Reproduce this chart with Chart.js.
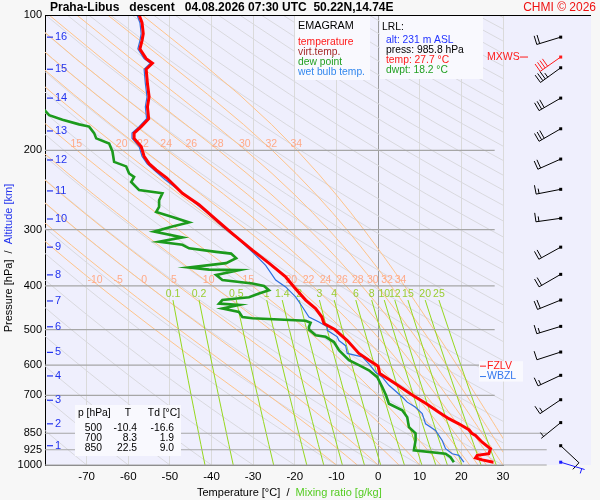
<!DOCTYPE html>
<html><head><meta charset="utf-8">
<script src="https://cdn.jsdelivr.net/npm/chart.js@4.4.1/dist/chart.umd.min.js"></script>
<style>html,body{margin:0;padding:0;background:#f7f7f7;}#wrap{width:600px;height:500px;}</style>
</head><body><div id="wrap"><canvas id="c" width="600" height="500"></canvas></div>
<script>
// ---------- DATA ----------
const Y_TICKS = [100,200,300,400,500,600,700,850,925,1000];
const ISOBARS = [200,300,400,500,600,700,850,925,1000];

const tempP = [100,104,110,114,119,125,128,132,142,152,160,170,177,183,188,196,206,214,221,230,249,264,285,306,333,356,382,402,430,449,469,485,500,529,565,585,603,626,660,700,731,763,789,810,835,850,860,890,920,944,952,964,974,985.8];
const tempC = [-57.4,-56.7,-56.4,-56.7,-57.2,-55.7,-54.2,-55.7,-55.4,-55.0,-55.4,-55.1,-56.9,-58.6,-58.6,-56.9,-56.2,-55.0,-53.3,-50.8,-47.0,-43.0,-38.9,-35.0,-30.2,-26.2,-22.2,-20.2,-17.4,-15.0,-13.5,-13.0,-10.4,-7.4,-4.6,-2.2,0.0,0.4,4.2,8.3,11.6,14.6,17.0,19.4,21.8,22.5,23.4,25.0,27.0,26.6,23.8,23.4,25.0,27.7];

const dewP = [162,167,171,175,177,183,188,193,201,212,217,225,229,235,245,249,258,267,274,281,289,295,303,312,319,324,330,336,339,347,356,364,368,369,378,388,395,400,409,416,424,430,438,441,449,457,469,472,478,483,493,500,515,519,533,556,585,600,616,638,671,700,731,756,783,824,850,882,928,944,961,985.8];
const dewC = [-80.3,-79.0,-75.8,-71.8,-69.4,-68.2,-67.7,-64.6,-63.8,-63.4,-60.5,-59.8,-58.6,-59.3,-57.4,-51.8,-52.6,-52.6,-53.3,-49.4,-45.4,-49.4,-53.8,-47.0,-52.6,-47.0,-45.4,-38.9,-35.3,-34.1,-36.5,-45.4,-40.6,-33.4,-38.9,-37.4,-30.2,-27.4,-26.2,-28.6,-31.0,-37.4,-38.2,-33.4,-37.4,-33.4,-32.6,-30.2,-17.4,-16.2,-16.6,-16.6,-15.0,-12.6,-10.6,-9.4,-7.0,-4.6,-2.2,-0.2,1.0,1.9,2.6,5.8,7.0,7.4,9.0,9.0,8.6,16.2,17.4,18.2];

const wbP = [100,104,110,114,119,125,128,132,142,152,160,170,177,183,188,196,206,214,221,232,255,274,295,316,339,360,388,402,423,445,469,481,493,502,519,529,543,565,575,596,622,638,665,706,725,744,769,810,838,882,920,944,952,985.8];
const wbC = [-57.9,-57.2,-56.9,-57.2,-57.7,-56.2,-54.7,-56.2,-55.9,-55.5,-55.9,-55.6,-57.4,-59.1,-59.1,-57.4,-56.7,-55.5,-53.8,-51.2,-45.4,-41.3,-37.4,-33.4,-29.8,-27.0,-24.6,-22.2,-19.8,-18.2,-16.6,-14.2,-12.2,-12.2,-9.8,-9.4,-7.8,-7.4,-3.8,-2.2,-0.6,1.0,2.6,5.8,7.0,9.0,10.6,11.4,13.8,15.4,16.2,17.8,19.4,20.6];

const altKm = [1,2,3,4,5,6,7,8,9,10,11,12,13,14,15,16];
const altP  = [906,810,718,634,562,493,432,378,328,284,246,210,181,153,132,112];

const windP   = [112,124,131,153,179,209,244,283,328,377,430,492,561,632,716,805,906,985.8];
const windDir = [253,235,234,240,240,246,259,262,241,240,248,253,252,245,236,231,133,107];
const windSpd = [20,40,35,30,30,20,15,15,20,20,20,15,10,15,15,5,10,5];
const MXWS_INDEX = 1;

const dryTheta = [-80,-70,-60,-50,-40,-30,-20,-10,0,10,20,30,40,50,60,70,80,90,100,110,120,130,140,150,160,170,180,190,200,210,220,230,240,250,260,270,280,290,300,310,320];
const moistThw = [-10,-5,0,5,10,15,20,22,24,26,28,30,32,34];
const mixRatio = [0.1,0.2,0.5,1,1.4,2,3,4,6,8,10,12,15,20,25];

const tableP  = [500,700,850];
const tableT  = [-10.4,8.3,22.5];
const tableTd = [-16.6,1.9,9.0];

const lrl = {alt:231, press:985.8, temp:27.7, dwpt:18.2};
const fzlvP = 603, wbzlP = 636;

// ---------- STYLE ----------
const F = '"Liberation Sans", Arial, sans-serif';
const C_T = '#ff0000', C_TD = '#1c9a1c', C_WB = '#2f6fe0';
const C_DRY = '#d9d9de', C_MOIST = '#ffc48a', C_MIX = '#96d81e';
const ISO_END = {600:34, 850:40.5, 925:40.5, 1000:40.5};

// ---------- thermodynamic guide lines ----------
function es(Tc){ return 6.112*Math.exp(17.67*Tc/(Tc+243.5)); }
function moistGrad(p,T){
  const Tc=T-273.15, e=es(Tc), rs=0.622*e/(p-e), Lv=2.501e6, Rd=287.04, cp=1005.7;
  return (Rd*T + Lv*rs)/(p*(cp + Lv*Lv*rs*0.622/(Rd*T*T)));
}
function moistLine(thw){
  const pts=[{x:thw,y:1000}]; let T=thw+273.15, p=1000; const dp=-5;
  while(p>100){ const k1=moistGrad(p,T); const k2=moistGrad(p+dp/2,T+k1*dp/2); T+=k2*dp; p+=dp; if(p%25===0) pts.push({x:T-273.15,y:p}); }
  return pts;
}
function dryLine(th){
  const pts=[]; for(let p=1000;p>=100;p-=25){ pts.push({x:(th+273.15)*Math.pow(p/1000,0.2857)-273.15,y:p}); } return pts;
}
function tdFor(w,p){ const e=w*p/(622+w); const l=Math.log(e/6.112); return 243.5*l/(17.67-l); }
function mixLine(w){ const pts=[]; for(let p=1000;p>=450;p-=50) pts.push({x:tdFor(w,p),y:p}); pts.push({x:tdFor(w,430),y:430}); return pts; }

const zip=(P,T)=>P.map((p,i)=>({x:T[i],y:p}));

const datasets=[];
const base={showLine:true,pointRadius:0,pointHoverRadius:0,fill:false,tension:0};
datasets.push(Object.assign({},base,{data:zip(tempP,tempC),borderColor:C_T,borderWidth:3,order:1}));
datasets.push(Object.assign({},base,{data:zip(dewP,dewC),borderColor:C_TD,borderWidth:2.6,order:2}));
datasets.push(Object.assign({},base,{data:zip(wbP,wbC),borderColor:C_WB,borderWidth:1.2,order:3,_kind:'wb'}));
ISOBARS.forEach(p=>datasets.push(Object.assign({},base,{data:[{x:-80,y:p},{x:(ISO_END[p]!==undefined?ISO_END[p]:28),y:p}],borderColor:'#a6a6a6',borderWidth:1.2,order:20,clip:false})));
const mixLines = mixRatio.map(mixLine);
mixLines.forEach(d=>datasets.push(Object.assign({},base,{data:d,borderColor:C_MIX,borderWidth:1,order:30})));
const moistLines = moistThw.map(moistLine);
moistLines.forEach(d=>datasets.push(Object.assign({},base,{data:d,borderColor:C_MOIST,borderWidth:1,order:40})));
dryTheta.forEach(th=>datasets.push(Object.assign({},base,{data:dryLine(th),borderColor:C_DRY,borderWidth:1,order:50})));

function txt(ctx,s,x,y,color,size,align,weight,baseline){
  ctx.font=(weight||'normal')+' '+size+'px '+F; ctx.fillStyle=color; ctx.textAlign=align||'left'; ctx.textBaseline=baseline||'middle'; ctx.fillText(s,x,y);
}

const bgPlugin={id:'bg',beforeDraw(chart){const {ctx,chartArea:a}=chart;ctx.save();ctx.fillStyle='#efeffd';ctx.fillRect(a.left,a.top,a.right-a.left+88,a.bottom-a.top);ctx.restore();}};

const labelPlugin={id:'guideLabels',beforeDatasetDraw(chart,args){
  if(chart.data.datasets[args.index]._kind!=='wb') return;
  const ctx=chart.ctx, xs=chart.scales.x, ys=chart.scales.y, a=chart.chartArea;
  ctx.save();
  moistLines.forEach((pts,i)=>{
    [200,400].forEach(pl=>{
      const pt=pts.find(q=>q.y===pl); if(!pt) return;
      const x=xs.getPixelForValue(pt.x)-(pl===400?4:1); if(x<a.left+6||x>a.right) return;
      txt(ctx,String(moistThw[i]),x,ys.getPixelForValue(pl)-1,'#ffaa88',10.5,'center','normal','bottom');
    });
  });
  mixLines.forEach((pts,i)=>{
    const pt=pts[pts.length-1];
    txt(ctx,String(mixRatio[i]),xs.getPixelForValue(pt.x),ys.getPixelForValue(pt.y)-1,'#9acd32',10.5,'center','normal','bottom');
  });
  ctx.restore();
}};

function drawBarb(ctx,x0,y0,dir,spd,color){
  const r=dir*Math.PI/180, dx=Math.sin(r), dy=-Math.cos(r), L=25, bx=-dy, by=dx;
  const ex=x0+dx*L, ey=y0+dy*L;
  ctx.strokeStyle=color; ctx.fillStyle=color; ctx.lineWidth=1;
  ctx.beginPath(); ctx.moveTo(x0,y0); ctx.lineTo(ex,ey); ctx.stroke();
  ctx.fillRect(x0-1.5,y0-1.5,3,3);
  let full=Math.floor(spd/10), half=(spd%10)>=5?1:0, pos=L;
  if(full===0&&half) pos=L-3;
  for(let i=0;i<full;i++){ const px=x0+dx*pos, py=y0+dy*pos; ctx.beginPath(); ctx.moveTo(px,py); ctx.lineTo(px+bx*9,py+by*9); ctx.stroke(); pos-=3; }
  if(half){ const px=x0+dx*pos, py=y0+dy*pos; ctx.beginPath(); ctx.moveTo(px,py); ctx.lineTo(px+bx*5,py+by*5); ctx.stroke(); }
}

const overlayPlugin={id:'overlay',afterDraw(chart){
  const ctx=chart.ctx, xs=chart.scales.x, ys=chart.scales.y, a=chart.chartArea;
  ctx.save();
  // top frame
  ctx.strokeStyle='#000'; ctx.lineWidth=1; ctx.beginPath(); ctx.moveTo(a.left,a.top+0.5); ctx.lineTo(a.right+88,a.top+0.5); ctx.stroke();
  // title
  txt(ctx,'Praha-Libus   descent   04.08.2026 07:30 UTC  50.22N,14.74E',50,7.5,'#000',12,'left','bold');
  txt(ctx,'CHMI \u00a9 2026',596,7.5,'#ee1111',12,'right');
  // y axis title (two colours)
  ctx.save(); ctx.translate(9,258); ctx.rotate(-Math.PI/2);
  ctx.font='11px '+F; const s1='Pressure [hPa]  /  ', s2='Altitude [km]';
  const w1=ctx.measureText(s1).width, w2=ctx.measureText(s2).width; let sx=-(w1+w2)/2;
  txt(ctx,s1,sx,0,'#000',11,'left'); txt(ctx,s2,sx+w1,0,'#2233ee',11,'left'); ctx.restore();
  // x axis title
  ctx.font='11px '+F; const t1='Temperature [\u00b0C]  /  ', t2='Mixing ratio [g/kg]';
  const tw1=ctx.measureText(t1).width; txt(ctx,t1,197,493,'#000',11,'left'); txt(ctx,t2,197+tw1,493,'#55cc22',11,'left');
  // altitude labels
  altKm.forEach((k,i)=>{const y=ys.getPixelForValue(altP[i]); ctx.strokeStyle='#2233ee'; ctx.lineWidth=1.2; ctx.beginPath(); ctx.moveTo(47,y); ctx.lineTo(53,y); ctx.stroke(); txt(ctx,String(k),55,y,'#2233ee',11,'left');});
  // legend box
  ctx.fillStyle='#f9f9fe'; ctx.fillRect(295,a.top+1,75,64);
  txt(ctx,'EMAGRAM',298,26,'#000',10.8);
  txt(ctx,'temperature',298,42.5,'#ff1a1a',10.3);
  txt(ctx,'virt.temp.',298,52.5,'#a52a2a',10.3);
  txt(ctx,'dew point',298,62.5,'#22a022',10.3);
  txt(ctx,'wet bulb temp.',298,72.5,'#3388ee',10.3);
  // LRL box
  ctx.fillStyle='#f9f9fe'; ctx.fillRect(380,a.top+1,103,63);
  txt(ctx,'LRL:',382,27.5,'#000',10.3);
  txt(ctx,'alt: '+lrl.alt+' m ASL',386,40,'#2233ff',10.3);
  txt(ctx,'press: '+lrl.press.toFixed(1)+' hPa',386,50,'#000',10.3);
  txt(ctx,'temp: '+lrl.temp.toFixed(1)+' \u00b0C',386,60.5,'#ff1a1a',10.3);
  txt(ctx,'dwpt: '+lrl.dwpt.toFixed(1)+' \u00b0C',386,70.5,'#22a022',10.3);
  // table
  ctx.fillStyle='#f9f9fe'; ctx.fillRect(75,405,106,51);
  txt(ctx,'p [hPa]',78,413.5,'#000',10.3); txt(ctx,'T',128,413.5,'#000',10.3,'center'); txt(ctx,'Td [\u00b0C]',180,413.5,'#000',10.3,'right');
  tableP.forEach((p,i)=>{const y=428.5+i*10; txt(ctx,String(p),102,y,'#000',10.3,'right'); txt(ctx,tableT[i].toFixed(1),137,y,'#000',10.3,'right'); txt(ctx,tableTd[i].toFixed(1),174,y,'#000',10.3,'right');});
  // FZLV / WBZL
  const yF=ys.getPixelForValue(fzlvP), yW=ys.getPixelForValue(wbzlP);
  ctx.fillStyle='#f9f9fe'; ctx.fillRect(479,yF-5,44,yW-yF+10);
  ctx.lineWidth=1; ctx.strokeStyle='#ff1a1a'; ctx.beginPath(); ctx.moveTo(480,yF); ctx.lineTo(486,yF); ctx.stroke();
  txt(ctx,'FZLV',487,yF,'#ff1a1a',10.5);
  ctx.strokeStyle='#3377ee'; ctx.beginPath(); ctx.moveTo(480,yW); ctx.lineTo(486,yW); ctx.stroke();
  txt(ctx,'WBZL',487,yW,'#3377ee',10.5);
  // wind barbs
  const bx0=a.right+57.7;
  windP.forEach((p,i)=>{const y=ys.getPixelForValue(p); let col='#000'; if(i===MXWS_INDEX) col='#ff1a1a'; if(i===windP.length-1) col='#1a1aff'; drawBarb(ctx,bx0,y,windDir[i],windSpd[i],col);});
  const yM=ys.getPixelForValue(windP[MXWS_INDEX]);
  txt(ctx,'MXWS',487,yM+0.5,'#ff1a1a',10.5);
  ctx.strokeStyle='#ff1a1a'; ctx.beginPath(); ctx.moveTo(520,yM); ctx.lineTo(528,yM); ctx.stroke();
  ctx.restore();
}};

new Chart(document.getElementById('c'),{
  type:'scatter',
  data:{datasets},
  options:{
    responsive:false, animation:false, events:[],
    layout:{padding:{left:0,top:15,right:97,bottom:0}},
    plugins:{legend:{display:false},tooltip:{enabled:false},title:{display:false}},
    scales:{
      x:{type:'linear',min:-80,max:30,afterFit(s){s.height=35;},
         border:{display:true,color:'#777'},
         grid:{drawTicks:false,lineWidth:1,color:(c)=>{const v=c.tick?c.tick.value:null; if(v===0) return '#9a9a9a'; if(v===-80) return 'rgba(0,0,0,0)'; return '#dadada';}},
         ticks:{stepSize:10,padding:5,color:'#000',font:{family:F,size:11.5},callback:(v)=>v===-80?'':String(v)}},
      y:{type:'logarithmic',reverse:true,min:100,max:1000,
         afterBuildTicks(s){s.ticks=Y_TICKS.map(v=>({value:v}));},
         afterFit(s){s.width=45;},
         grid:{display:false,drawTicks:false},
         border:{display:true,color:'#000'},
         ticks:{padding:3,autoSkip:false,color:'#000',font:{family:F,size:11},callback:(v)=>String(v)}}
    }
  },
  plugins:[bgPlugin,labelPlugin,overlayPlugin]
});
</script></body></html>
